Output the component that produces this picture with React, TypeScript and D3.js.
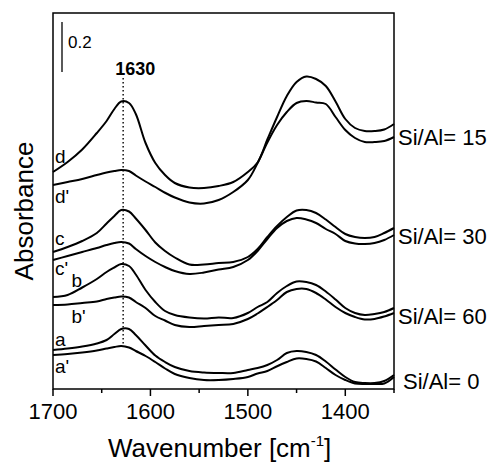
import React from "react";
import * as d3 from "d3";

const wavenumbers = [1700, 1685, 1670, 1655, 1645, 1637, 1630, 1622, 1615, 1605, 1595, 1585, 1575, 1560, 1545, 1530, 1515, 1500, 1490, 1480, 1470, 1460, 1450, 1440, 1430, 1420, 1410, 1400, 1390, 1380, 1370, 1360, 1350];

const seriesD = [0.864, 0.904, 0.954, 1.020, 1.068, 1.116, 1.146, 1.140, 1.096, 0.980, 0.900, 0.852, 0.820, 0.802, 0.800, 0.808, 0.824, 0.864, 0.902, 0.994, 1.084, 1.168, 1.224, 1.246, 1.236, 1.208, 1.146, 1.076, 1.040, 1.028, 1.028, 1.034, 1.056];
const seriesDp = [0.812, 0.824, 0.836, 0.852, 0.862, 0.868, 0.872, 0.868, 0.850, 0.826, 0.804, 0.781, 0.762, 0.742, 0.738, 0.752, 0.784, 0.832, 0.900, 0.982, 1.052, 1.104, 1.140, 1.148, 1.142, 1.136, 1.084, 1.032, 1.000, 0.984, 0.984, 0.988, 1.004];
const seriesC = [0.544, 0.564, 0.588, 0.620, 0.658, 0.688, 0.712, 0.706, 0.678, 0.632, 0.582, 0.548, 0.522, 0.494, 0.494, 0.500, 0.504, 0.524, 0.556, 0.604, 0.648, 0.684, 0.710, 0.712, 0.700, 0.674, 0.644, 0.616, 0.604, 0.600, 0.604, 0.620, 0.640];
const seriesCp = [0.512, 0.528, 0.544, 0.560, 0.572, 0.580, 0.584, 0.578, 0.556, 0.528, 0.504, 0.484, 0.468, 0.456, 0.462, 0.474, 0.484, 0.512, 0.548, 0.596, 0.640, 0.668, 0.680, 0.674, 0.660, 0.636, 0.616, 0.588, 0.578, 0.576, 0.580, 0.592, 0.612];
const seriesB = [0.364, 0.372, 0.402, 0.436, 0.464, 0.482, 0.496, 0.488, 0.454, 0.392, 0.344, 0.308, 0.292, 0.282, 0.278, 0.282, 0.280, 0.300, 0.324, 0.344, 0.380, 0.408, 0.426, 0.424, 0.412, 0.386, 0.354, 0.320, 0.300, 0.292, 0.296, 0.304, 0.320];
const seriesBp = [0.332, 0.334, 0.340, 0.346, 0.356, 0.362, 0.366, 0.362, 0.344, 0.320, 0.288, 0.270, 0.252, 0.244, 0.248, 0.252, 0.256, 0.276, 0.298, 0.324, 0.352, 0.384, 0.396, 0.396, 0.380, 0.354, 0.324, 0.300, 0.284, 0.274, 0.276, 0.286, 0.300];
const seriesA = [0.152, 0.158, 0.166, 0.178, 0.192, 0.216, 0.236, 0.236, 0.212, 0.170, 0.130, 0.104, 0.084, 0.068, 0.062, 0.060, 0.060, 0.072, 0.080, 0.092, 0.112, 0.140, 0.148, 0.144, 0.132, 0.106, 0.074, 0.044, 0.024, 0.020, 0.020, 0.028, 0.052];
const seriesAp = [0.132, 0.136, 0.142, 0.150, 0.158, 0.164, 0.168, 0.162, 0.148, 0.128, 0.104, 0.078, 0.056, 0.040, 0.032, 0.032, 0.036, 0.044, 0.058, 0.068, 0.087, 0.104, 0.118, 0.116, 0.106, 0.080, 0.052, 0.032, 0.018, 0.016, 0.016, 0.018, 0.044];

const allSeries = [seriesD, seriesDp, seriesC, seriesCp, seriesB, seriesBp, seriesA, seriesAp];

const curveLabels = ["d", "d'", "c", "c'", "b", "b'", "a", "a'"];
const curveLabelPos = [
  [1698, 0.90], [1698, 0.74], [1698, 0.572], [1698, 0.452], [1681, 0.404], [1681, 0.26], [1698, 0.168], [1698, 0.06],
];
const ratioLabels = ["Si/Al= 15", "Si/Al= 30", "Si/Al= 60", "Si/Al= 0"];
const ratioLabelY = [1.0, 0.604, 0.284, 0.024];

const xTicksMajor = [1700, 1600, 1500, 1400];
const xTicksMinor = [1650, 1550, 1450, 1350];
const peakWn = 1628;
const peakLabel = "1630";
const peakLineRange = [1.24, 0.168];
const scaleBar = [1.464, 1.264];
const scaleBarLabel = "0.2";

export default function App() {
  const W = 493, H = 464;
  const left = 53, right = 394, top = 13, bottom = 389;
  const x = d3.scaleLinear().domain([1700, 1350]).range([left, right]);
  const y = d3.scaleLinear().domain([0, 1.5]).range([388, 13]);
  const line = d3.line<number>()
    .x((_, i) => x(wavenumbers[i]))
    .y((v) => y(v))
    .curve(d3.curveCatmullRom.alpha(0.5));
  const font = "Liberation Sans, Arial, Helvetica, sans-serif";
  return (
    <svg width={W} height={H} style={{ position: "absolute", left: 0, top: 0, background: "#fff" }} fontFamily={font}>
      <rect x={0} y={0} width={W} height={H} fill="#fff" />
      {allSeries.map((s, i) => (
        <path key={i} d={line(s) || ""} fill="none" stroke="#000" strokeWidth={2} />
      ))}
      <line x1={x(peakWn)} x2={x(peakWn)} y1={y(peakLineRange[0])} y2={y(peakLineRange[1])} stroke="#000" strokeWidth={1.4} strokeDasharray="1.5,2.5" />
      <text x={x(peakWn) + 12} y={75} fontSize={18} fontWeight="bold" textAnchor="middle">{peakLabel}</text>
      <line x1={62} x2={62} y1={y(scaleBar[0])} y2={y(scaleBar[1])} stroke="#000" strokeWidth={1.3} />
      <text x={68} y={48} fontSize={17}>{scaleBarLabel}</text>
      <rect x={left} y={top} width={right - left} height={bottom - top} fill="none" stroke="#000" strokeWidth={1.5} />
      {xTicksMajor.map((t) => (
        <g key={t}>
          <line x1={x(t)} x2={x(t)} y1={bottom} y2={bottom + 7} stroke="#000" strokeWidth={1.5} />
          <text x={x(t)} y={419} fontSize={22} textAnchor="middle">{t}</text>
        </g>
      ))}
      {xTicksMinor.map((t) => (
        <line key={t} x1={x(t)} x2={x(t)} y1={bottom} y2={bottom + 4} stroke="#000" strokeWidth={1.5} />
      ))}
      {curveLabels.map((l, i) => (
        <text key={l} x={x(curveLabelPos[i][0])} y={y(curveLabelPos[i][1])} fontSize={19}>{l}</text>
      ))}
      {ratioLabels.map((l, i) => (
        <text key={l} x={i === 3 ? 403 : 398} y={y(ratioLabelY[i]) + 7} fontSize={22}>{l}</text>
      ))}
      <text x={108} y={457} fontSize={26}>
        Wavenumber [cm<tspan dy={-11} fontSize={15}>-1</tspan><tspan dy={11}>]</tspan>
      </text>
      <text transform="translate(33,211) rotate(-90)" fontSize={26} textAnchor="middle">Absorbance</text>
    </svg>
  );
}
